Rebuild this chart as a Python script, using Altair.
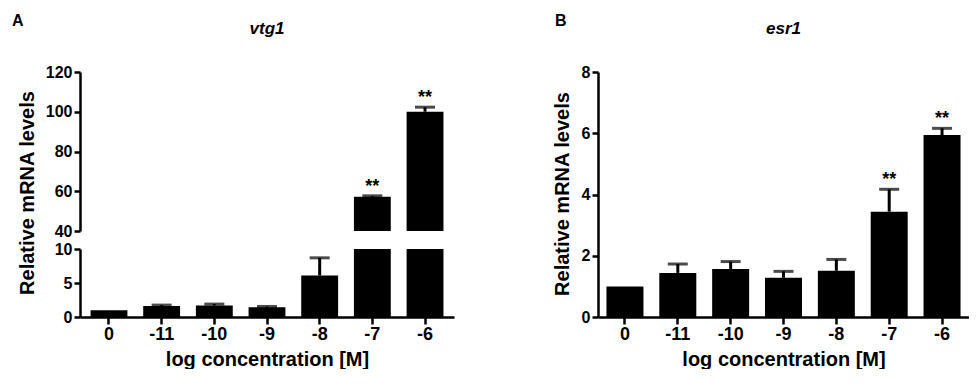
import altair as alt
import pandas as pd

conc = ["0", "-11", "-10", "-9", "-8", "-7", "-6"]
vtg1_mean = [1.0, 1.6, 1.7, 1.45, 6.1, 57.2, 100.0]
vtg1_sem = [0.0, 0.15, 0.2, 0.1, 2.6, 0.5, 2.3]
vtg1_sig = ["", "", "", "", "", "**", "**"]
esr1_mean = [1.0, 1.44, 1.57, 1.28, 1.51, 3.44, 5.94]
esr1_sem = [0.0, 0.29, 0.24, 0.21, 0.37, 0.73, 0.22]
esr1_sig = ["", "", "", "", "", "**", "**"]
y_ticks_upper = [40, 60, 80, 100, 120]
y_ticks_lower = [0, 5, 10]
y_ticks_esr1 = [0, 2, 4, 6, 8]

FONT = "Liberation Sans"
WA, WB = 374, 371
H_UP, H_LO, GAP = 159, 68, 18
HB = H_UP + H_LO + GAP


def table(mean, sem, sig):
    df = pd.DataFrame({"conc": conc, "mean": mean, "sem": sem, "sig": sig})
    df["top"] = df["mean"] + df["sem"]
    return df


vtg = table(vtg1_mean, vtg1_sem, vtg1_sig)
esr = table(esr1_mean, esr1_sem, esr1_sig)


def xenc(show_axis, po):
    axis = None
    if show_axis:
        axis = alt.Axis(title="log concentration [M]", labelAngle=0, labelFontSize=18,
                        tickSize=7, labelPadding=1, titleY=48, titleBaseline="alphabetic")
    return alt.X("conc:N", sort=conc,
                 scale=alt.Scale(domain=conc, paddingInner=0.3, paddingOuter=po),
                 axis=axis)


def layers(df, x, yscale, yaxis, ylow, ymax, with_stars):
    def Y(field):
        return alt.Y(field, type="quantitative", scale=yscale, axis=yaxis)

    bars = alt.Chart(df).mark_bar(color="black", clip=True).encode(
        x=x, y=Y("mean"), y2=alt.datum(ylow))
    e = df[(df["sem"] > 0) & (df["top"] <= ymax)]
    rule = alt.Chart(e).mark_rule(color="black", strokeWidth=3).encode(
        x=x, y=Y("mean"), y2="top:Q")
    cap = alt.Chart(e).mark_tick(color="black", size=20, thickness=3).encode(
        x=x, y=Y("top"))
    out = [bars, rule, cap]
    if with_stars:
        s = df[df["sig"] != ""]
        stars = alt.Chart(s).mark_text(font=FONT, fontSize=18, fontWeight="bold",
                                       baseline="alphabetic", dy=-4, color="black").encode(
            x=x, y=Y("top"), text="sig:N")
        out.append(stars)
    return out


def label(text, xv, yv, size, italic=False, align="left"):
    return alt.Chart(pd.DataFrame({"t": [text]})).mark_text(
        font=FONT, fontSize=size, fontWeight="bold",
        fontStyle="italic" if italic else "normal",
        baseline="alphabetic", align=align, color="black").encode(
        x=alt.value(xv), y=alt.value(yv), text="t:N")


# Panel A (broken axis)
up_df = vtg[vtg["mean"] > 40]
up_axis = alt.Axis(values=y_ticks_upper, title="Relative mRNA levels", labelOverlap=False,
                   titleX=-46.7, titleY=HB / 2 - 2, titleBaseline="alphabetic",
                   titleAlign="center", titleAngle=270)
upper = alt.layer(
    *layers(up_df, xenc(False, 0.2), alt.Scale(domain=[40, 120], zero=False, nice=False),
            up_axis, 40, 120, True),
    label("vtg1", WA / 2, -38, 17, italic=True, align="center"),
    label("A", -68, -46.5, 16),
).properties(width=WA, height=H_UP)

lo_axis = alt.Axis(values=y_ticks_lower, title=None, labelOverlap=False)
lower = alt.layer(
    *layers(vtg, xenc(True, 0.2), alt.Scale(domain=[0, 10], nice=False), lo_axis, 0, 10, False),
).properties(width=WA, height=H_LO)

panel_a = alt.vconcat(upper, lower, spacing=GAP, bounds="flush")

# Panel B
b_axis = alt.Axis(values=y_ticks_esr1, title="Relative mRNA levels", labelOverlap=False,
                  titleX=-29.7, titleY=HB / 2 - 1, titleBaseline="alphabetic",
                  titleAlign="center", titleAngle=270)
panel_b = alt.layer(
    *layers(esr, xenc(True, 0.16), alt.Scale(domain=[0, 8], nice=False), b_axis, 0, 8, True),
    label("esr1", WB / 2, -38, 17, italic=True, align="center"),
    label("B", -43, -46.5, 16),
).properties(width=WB, height=HB)

chart = alt.hconcat(panel_a, panel_b, spacing=98).properties(
    padding={"left": 4, "top": 4, "right": 0, "bottom": 0}
).configure_view(stroke=None).configure_axis(
    domainColor="black", domainWidth=2.5, tickColor="black", tickWidth=2.5,
    tickSize=6, labelFont=FONT, labelFontWeight="bold", labelFontSize=16,
    labelColor="black", labelPadding=2, grid=False,
    titleFont=FONT, titleFontWeight="bold", titleFontSize=20, titleColor="black",
)

chart.save("out.html", embed_options={"renderer": "svg", "actions": False})
